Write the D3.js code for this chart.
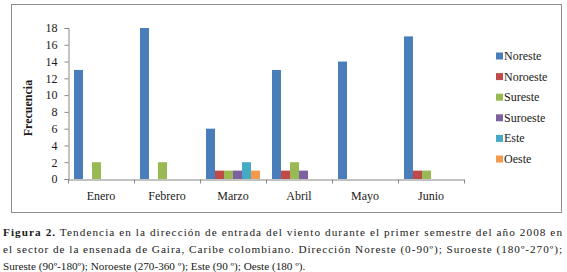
<!DOCTYPE html>
<html>
<head>
<meta charset="utf-8">
<script src="https://cdn.jsdelivr.net/npm/d3@7"></script>
<style>
  body { margin: 0; background: #fff; }
  svg { display: block; }
</style>
</head>
<body>
<svg id="chart" width="567" height="272"></svg>
<script>
// months on the x axis
const months = ["Enero", "Febrero", "Marzo", "Abril", "Mayo", "Junio"];
// wind direction series
const seriesNames = ["Noreste", "Noroeste", "Sureste", "Suroeste", "Este", "Oeste"];
const noreste  = [13, 18, 6, 13, 14, 17];
const noroeste = [0, 0, 1, 1, 0, 1];
const sureste  = [2, 2, 1, 2, 0, 1];
const suroeste = [0, 0, 1, 1, 0, 0];
const este     = [0, 0, 2, 0, 0, 0];
const oeste    = [0, 0, 1, 0, 0, 0];
const yTicks = [0, 2, 4, 6, 8, 10, 12, 14, 16, 18];

const colors = ["#4a7ebb", "#be4b48", "#98b954", "#7d60a0", "#46aac5", "#f39a4f"];
const allSeries = [noreste, noroeste, sureste, suroeste, este, oeste];
const FONT = "'Liberation Serif'";

const svg = d3.select("#chart")
  .attr("font-family", FONT);

// chart frame
svg.append("rect")
  .attr("x", 11.5).attr("y", 4.5)
  .attr("width", 550).attr("height", 208)
  .attr("fill", "none")
  .attr("stroke", "#8c8c8c")
  .attr("stroke-width", 1);

const x0 = d3.scaleBand().domain(months).range([68, 464]);
const x1 = d3.scaleBand().domain(seriesNames).range([6, x0.bandwidth() - 6]);
const y = d3.scaleLinear().domain([0, 18]).range([179, 28]);

// bars
months.forEach((m, i) => {
  const g = svg.append("g").attr("transform", `translate(${x0(m)},0)`);
  g.selectAll("rect")
    .data(seriesNames.map((s, j) => ({ s, v: allSeries[j][i], c: colors[j] })))
    .join("rect")
    .attr("x", d => x1(d.s))
    .attr("width", x1.bandwidth())
    .attr("y", d => y(d.v))
    .attr("height", d => y(0) - y(d.v))
    .attr("fill", d => d.c);
});

// y axis
const yAxis = svg.append("g")
  .attr("transform", "translate(68.5,0)")
  .call(d3.axisLeft(y).tickValues(yTicks).tickSize(4).tickPadding(7));
yAxis.attr("font-family", FONT).attr("font-size", 12);
yAxis.selectAll("text").attr("fill", "#1a1a1a");

// x axis
const xAxis = svg.append("g")
  .attr("transform", "translate(0,179.5)")
  .call(d3.axisBottom(x0).tickSize(0).tickPadding(12));
xAxis.attr("font-family", FONT).attr("font-size", 12);
xAxis.selectAll("text").attr("fill", "#1a1a1a");
// category separators
xAxis.selectAll(".sep")
  .data(months.concat(["end"]))
  .join("line")
  .attr("x1", (d, i) => i < months.length ? x0(d) + 0.5 : x0.range()[1] + 0.5)
  .attr("x2", (d, i) => i < months.length ? x0(d) + 0.5 : x0.range()[1] + 0.5)
  .attr("y1", 0).attr("y2", 4)
  .attr("stroke", "#868686");
svg.selectAll(".domain, .tick line").attr("stroke", "#868686");

// y axis title
svg.append("text")
  .attr("transform", "translate(32,108) rotate(-90)")
  .attr("text-anchor", "middle")
  .attr("font-size", 12)
  .attr("font-weight", "bold")
  .attr("fill", "#1a1a1a")
  .text("Frecuencia");

// legend
const legend = svg.append("g").attr("font-size", 12).attr("fill", "#1a1a1a");
seriesNames.forEach((s, j) => {
  const ly = 56 + j * 20.6;
  legend.append("rect")
    .attr("x", 496).attr("y", ly - 3.5)
    .attr("width", 7).attr("height", 7)
    .attr("fill", colors[j]);
  legend.append("text")
    .attr("x", 504).attr("y", ly + 4)
    .text(s);
});

// caption
const cap = svg.append("g").attr("font-size", 11.2).attr("fill", "#1a1a1a");
const l1 = cap.append("text").attr("x", 3).attr("y", 236)
  .attr("textLength", 559).attr("lengthAdjust", "spacing");
l1.append("tspan").attr("font-weight", "bold").text("Figura 2.");
l1.append("tspan").text(" Tendencia en la dirección de entrada del viento durante el primer semestre del año 2008 en");
cap.append("text").attr("x", 3).attr("y", 252.7)
  .attr("textLength", 559).attr("lengthAdjust", "spacing")
  .text("el sector de la ensenada de Gaira, Caribe colombiano. Dirección Noreste (0-90º); Suroeste (180º-270º);");
cap.append("text").attr("x", 3).attr("y", 269.5)
  .text("Sureste (90º-180º); Noroeste (270-360 º); Este (90 º); Oeste (180 º).");
</script>
</body>
</html>
